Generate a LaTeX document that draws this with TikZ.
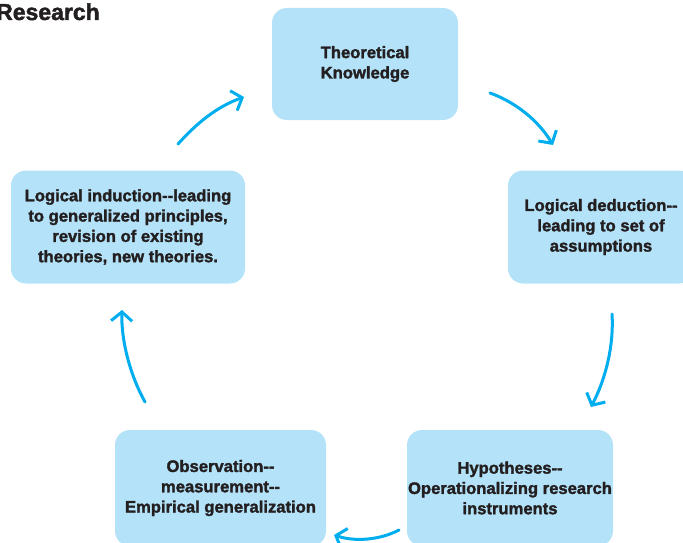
\documentclass[tikz,border=0pt]{standalone}
\usepackage{fontspec}
\setmainfont{Liberation Sans}[BoldFeatures={FakeBold=1.8}]
\usetikzlibrary{arrows.meta}
\definecolor{boxfill}{RGB}{180,227,249}
\definecolor{arrowc}{RGB}{0,174,239}
\definecolor{txt}{RGB}{35,31,32}
\tikzset{
  stagebox/.style={draw=none, fill=boxfill, rounded corners=15pt, align=center,
    font=\bfseries\fontsize{16.6}{20.3}\selectfont, text=txt, inner sep=0pt},
  cyc/.style={draw=arrowc, line width=3pt, line cap=round,
    -{Straight Barb[length=9pt,width=21pt,line width=3pt]}}
}
\begin{document}
\begin{tikzpicture}[x=1pt,y=-1pt]
\useasboundingbox (0,0) rectangle (683,543);
\begin{scope}
\clip (0,0) rectangle (683,543);
\node[anchor=base west, font=\bfseries\fontsize{23}{26}\selectfont, text=txt, inner sep=0pt] (title) at (-4,20) {Research};
\node[stagebox, minimum width=186pt, minimum height=112pt] (tk) at (365,64) {Theoretical\\Knowledge};
\node[stagebox, minimum width=186pt, minimum height=113pt] (ld) at (601,227) {Logical deduction-{}-\\leading to set of\\assumptions};
\node[stagebox, minimum width=234pt, minimum height=113pt] (li) at (128,227) {Logical induction-{}-leading\\to generalized principles,\\revision of existing\\theories, new theories.};
\node[stagebox, minimum width=211pt, minimum height=116pt] (ob) at (220.5,488) {Observation-{}-\\measurement-{}-\\Empirical generalization};
\node[stagebox, minimum width=206pt, minimum height=116pt] (hy) at (510,488) {Hypotheses-{}-\\Operationalizing research\\instruments};
\end{scope}
\coordinate (a1s) at (178,144); \coordinate (a1e) at (244,97);
\coordinate (a2s) at (490,93);  \coordinate (a2e) at (553,145);
\coordinate (a3s) at (612,314); \coordinate (a3e) at (591,407);
\coordinate (a4s) at (399,530); \coordinate (a4e) at (334,535);
\coordinate (a5s) at (145,402); \coordinate (a5e) at (122,310);
\draw[cyc] (a1s) .. controls (196,124) and (216,107) .. (a1e);
\draw[cyc] (a2s) .. controls (515,102) and (538,120) .. (a2e);
\draw[cyc] (a3s) .. controls (614,345) and (606,378) .. (a3e);
\draw[cyc] (a4s) .. controls (380,540) and (355,542) .. (a4e);
\draw[cyc] (a5s) .. controls (130,375) and (121,340) .. (a5e);
\end{tikzpicture}
\end{document}
